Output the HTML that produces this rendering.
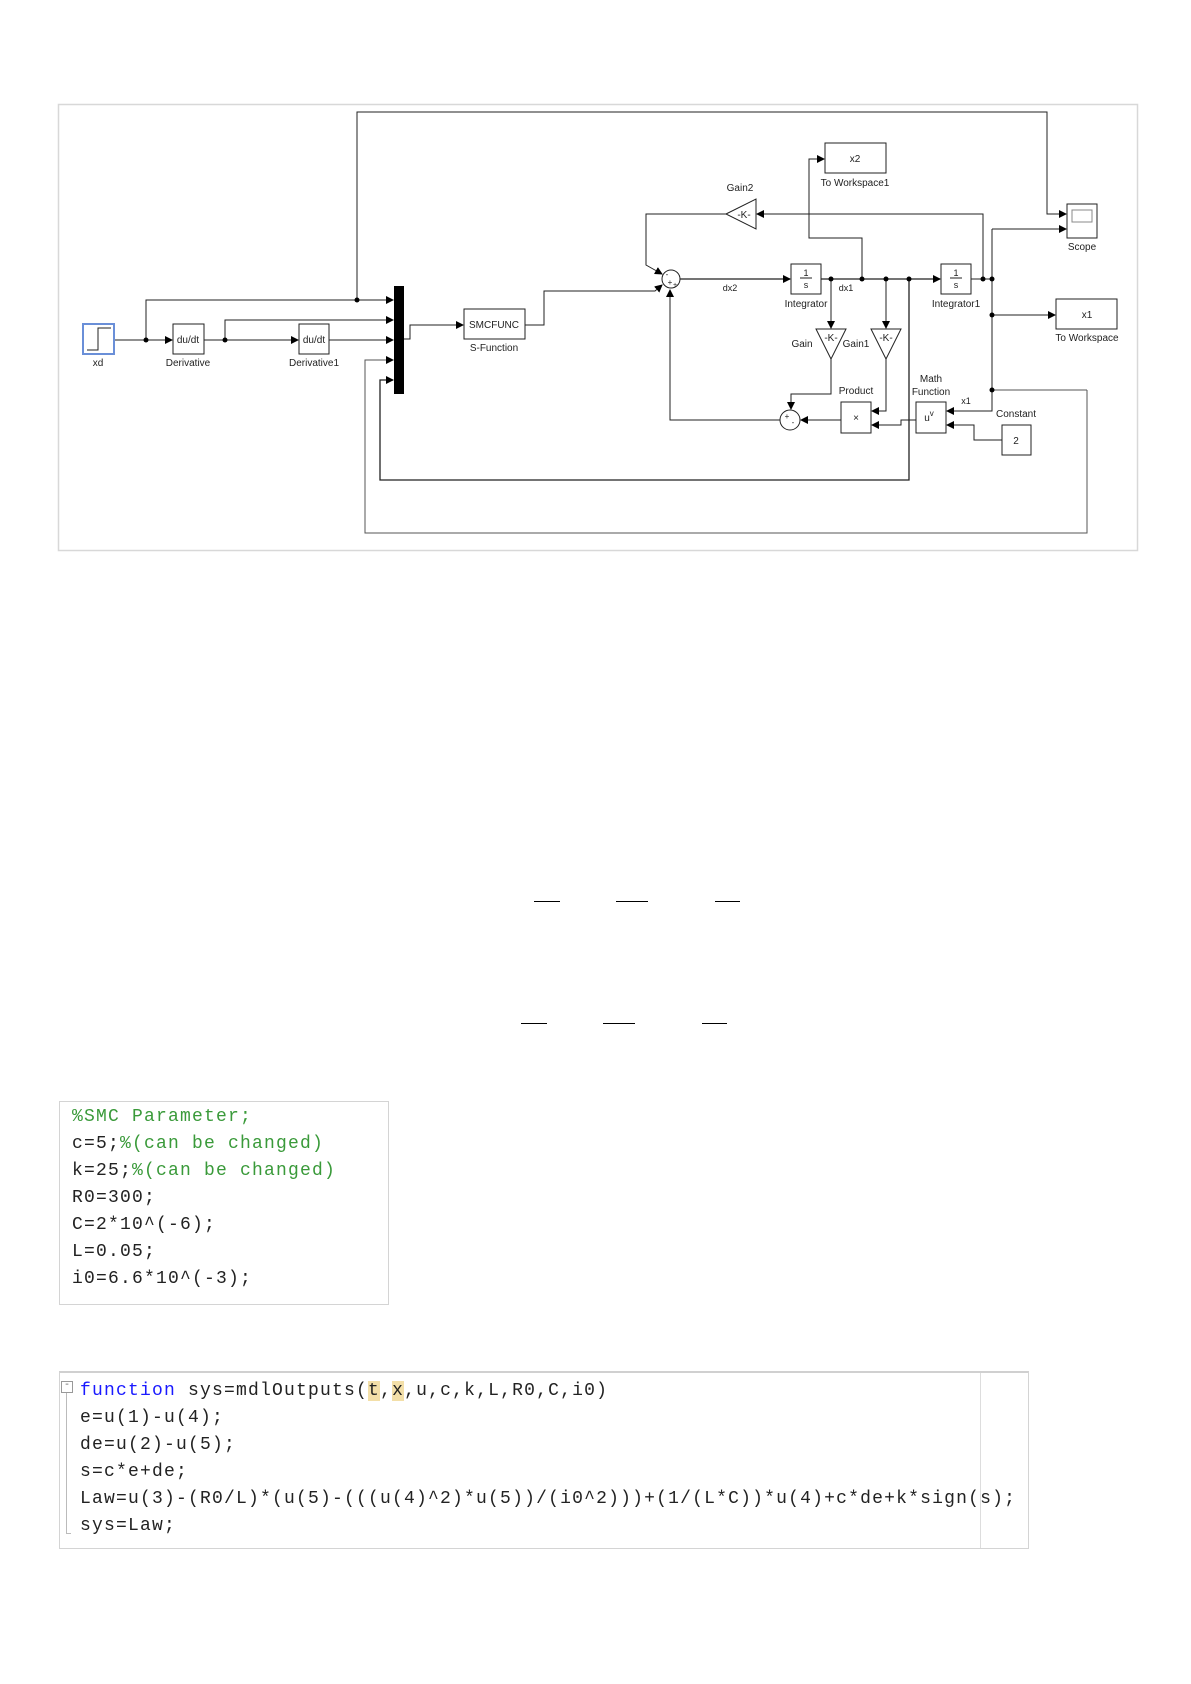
<!DOCTYPE html>
<html><head><meta charset="utf-8"><style>
html,body{margin:0;padding:0;background:#fff;}
body{width:1191px;height:1684px;position:relative;overflow:hidden;font-family:"Liberation Sans",sans-serif;}
.code{position:absolute;border:1px solid #d4d4d4;background:#fff;font-family:"Liberation Mono",monospace;font-size:18px;letter-spacing:1.2px;color:#222;}
.code div{position:absolute;white-space:pre;line-height:20px;}
.g{color:#3a9a3a}.b{color:#1a1aff}.hl{background:#f3dfa8}
.bar{position:absolute;height:1px;background:#000;}
</style></head><body>
<svg width="1191" height="600" style="position:absolute;left:0;top:0" font-family="Liberation Sans, sans-serif" font-size="10">
<defs><marker id="a" markerWidth="8" markerHeight="8" refX="7" refY="4" orient="auto" markerUnits="userSpaceOnUse"><path d="M0,0 L8,4 L0,8 z" fill="#000"/></marker></defs>
<rect x="58.5" y="104.5" width="1079" height="446" fill="#fff" stroke="#d8d8d8" stroke-width="1.5"/>
<g fill="none" stroke="#222" stroke-width="1">
<polyline points="357,300 357,112 1047,112 1047,214 1066,214" marker-end="url(#a)"/>
<polyline points="114,340 172,340" marker-end="url(#a)"/>
<polyline points="146,340 146,300 393,300" marker-end="url(#a)"/>
<polyline points="204,340 298,340" marker-end="url(#a)"/>
<polyline points="225,340 225,320 393,320" marker-end="url(#a)"/>
<polyline points="329,340 393,340" marker-end="url(#a)"/>
<polyline points="1087,390 1087,533 365,533 365,360 393,360" marker-end="url(#a)" stroke="#555"/>
<polyline points="909,279 909,480 380,480 380,380 393,380" marker-end="url(#a)" stroke-width="1.3"/>
<polyline points="404,339 410,339 410,325 463,325" marker-end="url(#a)"/>
<polyline points="525,325 544,325 544,291 655,291 662,285" marker-end="url(#a)"/>
<polyline points="983,279 983,214 757,214" marker-end="url(#a)"/>
<polyline points="726,214 646,214 646,265 662,274" marker-end="url(#a)"/>
<polyline points="680,279 790,279" marker-end="url(#a)" stroke-width="1.3"/>
<polyline points="821,279 940,279" marker-end="url(#a)" stroke-width="1.3"/>
<polyline points="862,279 862,238 809,238 809,159 824,159" marker-end="url(#a)"/>
<polyline points="831,279 831,328" marker-end="url(#a)"/>
<polyline points="886,279 886,328" marker-end="url(#a)"/>
<polyline points="831,359 831,394 791,394 791,409" marker-end="url(#a)"/>
<polyline points="886,359 886,411 872,411" marker-end="url(#a)"/>
<polyline points="841,420 801,420" marker-end="url(#a)"/>
<polyline points="780,420 670,420 670,290" marker-end="url(#a)"/>
<polyline points="916,420 901,420 901,425 872,425" marker-end="url(#a)"/>
<polyline points="971,279 992,279 992,411 947,411" marker-end="url(#a)"/>
<polyline points="992,229 1066,229" marker-end="url(#a)"/>
<polyline points="992,229 992,279"/>
<polyline points="992,315 1055,315" marker-end="url(#a)"/>
<polyline points="992,390 1087,390" stroke="#555"/>
<polyline points="1002,440 974,440 974,425 947,425" marker-end="url(#a)"/>
</g>
<g fill="#000">
<circle cx="357" cy="300" r="2.5"/><circle cx="146" cy="340" r="2.5"/><circle cx="225" cy="340" r="2.5"/>
<circle cx="831" cy="279" r="2.5"/><circle cx="862" cy="279" r="2.5"/><circle cx="886" cy="279" r="2.5"/><circle cx="909" cy="279" r="2.5"/>
<circle cx="983" cy="279" r="2.5"/><circle cx="992" cy="279" r="2.5"/><circle cx="992" cy="315" r="2.5"/><circle cx="992" cy="390" r="2.5"/>
<rect x="394" y="286" width="10" height="108"/>
</g>
<g fill="#fff" stroke="#222" stroke-width="1">
<rect x="83" y="324" width="31" height="30" stroke="#6a8fd8" stroke-width="2"/>
<polyline points="87,350 98,350 98,328 111,328" fill="none"/>
<rect x="173" y="324" width="31" height="30"/>
<rect x="299" y="324" width="30" height="30"/>
<rect x="464" y="309" width="61" height="30"/>
<circle cx="671" cy="279" r="9"/>
<polygon points="726,214 756,199 756,229"/>
<rect x="791" y="264" width="30" height="30"/>
<rect x="941" y="264" width="30" height="30"/>
<rect x="825" y="143" width="61" height="30"/>
<polygon points="816,329 846,329 831,359"/>
<polygon points="871,329 901,329 886,359"/>
<circle cx="790" cy="420" r="10"/>
<rect x="841" y="402" width="30" height="31"/>
<rect x="916" y="402" width="30" height="31"/>
<rect x="1002" y="425" width="29" height="30"/>
<rect x="1067" y="204" width="30" height="34"/>
<rect x="1072" y="210" width="20" height="12" stroke="#888"/>
<rect x="1056" y="299" width="61" height="30"/>
</g>
<g fill="#222" text-anchor="middle">
<text x="98" y="366">xd</text>
<text x="188" y="343">du/dt</text><text x="188" y="366">Derivative</text>
<text x="314" y="343">du/dt</text><text x="314" y="366">Derivative1</text>
<text x="494" y="328">SMCFUNC</text><text x="494" y="351">S-Function</text>
<text x="740" y="191">Gain2</text><text x="744" y="218">-K-</text>
<text x="855" y="162">x2</text><text x="855" y="186">To Workspace1</text>
<text x="806" y="276" font-size="9">1</text><line x1="800" y1="278" x2="812" y2="278" stroke="#222"/><text x="806" y="288" font-size="9">s</text>
<text x="956" y="276" font-size="9">1</text><line x1="950" y1="278" x2="962" y2="278" stroke="#222"/><text x="956" y="288" font-size="9">s</text>
<text x="806" y="307">Integrator</text><text x="956" y="307">Integrator1</text>
<text x="730" y="291" font-size="9">dx2</text><text x="846" y="291" font-size="9">dx1</text>
<text x="831" y="341">-K-</text><text x="886" y="341">-K-</text>
<text x="802" y="347">Gain</text><text x="856" y="347">Gain1</text>
<text x="856" y="394">Product</text><text x="856" y="421">×</text>
<text x="931" y="382">Math</text><text x="931" y="395">Function</text>
<text x="929" y="421">u<tspan font-size="8" dy="-5">v</tspan></text>
<text x="966" y="404" font-size="9">x1</text>
<text x="1016" y="417">Constant</text><text x="1016" y="444">2</text>
<text x="1082" y="250">Scope</text>
<text x="1087" y="318">x1</text><text x="1087" y="341">To Workspace</text>
<text x="667" y="277" font-size="8">-</text><text x="670" y="285" font-size="8">+</text><text x="675" y="287" font-size="7">+</text>
<text x="787" y="419" font-size="8">+</text><text x="793" y="425" font-size="8">-</text>
</g>
</svg>
<div class="bar" style="left:534px;top:901px;width:26px"></div>
<div class="bar" style="left:616px;top:901px;width:32px"></div>
<div class="bar" style="left:715px;top:901px;width:25px"></div>
<div class="bar" style="left:521px;top:1023px;width:26px"></div>
<div class="bar" style="left:603px;top:1023px;width:32px"></div>
<div class="bar" style="left:702px;top:1023px;width:25px"></div>

<div class="code" style="left:59px;top:1101px;width:328px;height:202px;">
<div style="left:12px;top:5px" class="g">%SMC Parameter;</div>
<div style="left:12px;top:32px">c=5;<span class="g">%(can be changed)</span></div>
<div style="left:12px;top:59px">k=25;<span class="g">%(can be changed)</span></div>
<div style="left:12px;top:86px">R0=300;</div>
<div style="left:12px;top:113px">C=2*10^(-6);</div>
<div style="left:12px;top:140px">L=0.05;</div>
<div style="left:12px;top:167px">i0=6.6*10^(-3);</div>
</div>

<div class="code" style="left:59px;top:1371px;width:968px;height:175px;border-top:2px solid #d0d0d0;">
<div style="left:920px;top:0;width:1px;height:175px;background:#ddd"></div>
<div style="left:1px;top:8px;width:10px;height:10px;border:1px solid #999;line-height:8px;font-size:10px;letter-spacing:0;color:#666;text-align:center">-</div>
<div style="left:6px;top:20px;width:1px;height:140px;background:#bbb"></div>
<div style="left:6px;top:160px;width:5px;height:1px;background:#bbb"></div>
<div style="left:20px;top:8px"><span class="b">function</span> sys=mdlOutputs(<span class="hl">t</span>,<span class="hl">x</span>,u,c,k,L,R0,C,i0)</div>
<div style="left:20px;top:35px">e=u(1)-u(4);</div>
<div style="left:20px;top:62px">de=u(2)-u(5);</div>
<div style="left:20px;top:89px">s=c*e+de;</div>
<div style="left:20px;top:116px">Law=u(3)-(R0/L)*(u(5)-(((u(4)^2)*u(5))/(i0^2)))+(1/(L*C))*u(4)+c*de+k*sign(s);</div>
<div style="left:20px;top:143px">sys=Law;</div>
</div>
</body></html>
